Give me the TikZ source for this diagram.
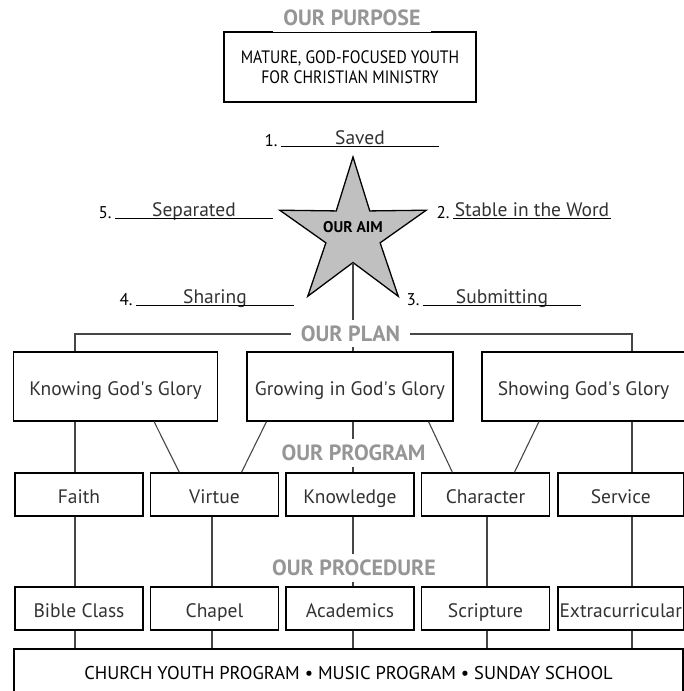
\documentclass[tikz,border=0pt]{standalone}
\usepackage{fontspec}
\setmainfont{PT Sans}
\newfontfamily\condfont[FakeStretch=0.87]{PT Sans}
\usetikzlibrary{calc, positioning, shapes}
\definecolor{headgray}{RGB}{150,150,150}
\definecolor{textgray}{RGB}{50,50,50}
\definecolor{linegray}{RGB}{70,70,70}
\definecolor{starfill}{RGB}{192,192,192}
\tikzset{
    bx/.style args={#1 #2}{
        draw, line width=1.3pt, minimum width=#1, minimum height=#2,
        inner sep=0pt, text height=17pt, text depth=0pt,
        text=textgray, font=\fontsize{19.5}{21}\selectfont
    },
    bx/.default={128pt 43pt}
}
\tikzset{
    head/.style={fill=white, text=headgray, inner xsep=10pt, inner ysep=5.5pt,
        font=\bfseries\fontsize{22}{24}\selectfont},
    conn/.style={draw=linegray, line width=1.1pt},
    blank/.style={minimum width=158pt, inner sep=0pt, text=textgray,
        font=\fontsize{19.5}{21}\selectfont},
    num/.style={inner sep=0pt, font=\fontsize{17}{18}\selectfont}
}
\begin{document}
\begin{tikzpicture}[x=1pt, y=-1pt]
    \useasboundingbox (0,0) rectangle (684,691);
    \clip (0,0) rectangle (684,691);
    % x of the vertical lines
    \coordinate (x1) at (75,0);
    \coordinate (x2) at (212,0);
    \coordinate (x3) at (353,0);
    \coordinate (x4) at (487,0);
    \coordinate (x5) at (632,0);
    % purpose
    \node[draw, line width=1.3pt, minimum width=252pt, minimum height=70pt, align=center,
        font=\condfont\fontsize{18}{20.5}\selectfont] (goal) at (350,67)
        {MATURE, GOD-FOCUSED YOUTH\\FOR CHRISTIAN MINISTRY};
    % aim
    \node[star, star points=5, star point ratio=2.7, minimum size=154pt, inner sep=0pt,
        draw, fill=starfill, line width=1.3pt] (aim) at (353,234) {};
    \node[inner sep=0pt, font=\bfseries\fontsize{15.5}{16}\selectfont]
        (aimtxt) at ([yshift=7pt]aim.center) {OUR AIM};
    \foreach \i/\x/\y/\w in {1/360/144/Saved, 2/532/216/Stable in the Word,
        3/502/303/Submitting, 4/215/303/Sharing, 5/194/216/Separated}{
        \node[blank, anchor=base] (b\i) at (\x,\y) {\w};
        \draw[line width=1.1pt] ([yshift=-2.5pt]b\i.base west) -- ([yshift=-2.5pt]b\i.base east);
        \node[num, anchor=base east] (n\i) at ([xshift=-3pt, yshift=-2.5pt]b\i.base west) {\i.};
    }
    % plan
    \node[bx={204pt 69pt}] (know) at (115.5,386.5) {Knowing God\textquotesingle s Glory};
    \node[bx={206pt 69pt}] (grow) at (350,386.5) {Growing in God\textquotesingle s Glory};
    \node[bx={203pt 69pt}] (show) at (583.5,386.5) {Showing God\textquotesingle s Glory};
    % program
    \node[bx] (faith) at (79,494.5) {Faith};
    \node[bx] (virtue) at (214.5,494.5) {Virtue};
    \node[bx] (knowl) at (350,494.5) {Knowledge};
    \node[bx] (char) at (485.5,494.5) {Character};
    \node[bx={125.5pt 43pt}] (serv) at (620.75,494.5) {Service};
    % procedure
    \node[bx] (bible) at (79,608.5) {Bible Class};
    \node[bx] (chapel) at (214.5,608.5) {Chapel};
    \node[bx] (acad) at (350,608.5) {Academics};
    \node[bx] (script) at (485.5,608.5) {Scripture};
    \node[bx={125.5pt 43pt}] (extra) at (620.75,608.5) {Extracurricular};
    \node[bx={669pt 44pt}, text=black, font=\fontsize{18.5}{20}\selectfont] (base) at (348.5,671)
        {CHURCH YOUTH PROGRAM \textbullet{} MUSIC PROGRAM \textbullet{} SUNDAY SCHOOL};
    % connectors
    \draw[conn] (aim.inner point 3) -- (grow.north -| x3);
    \draw[conn] (know.north -| x1) -- (x1 |- 0,334) -- (x5 |- 0,334) -- (show.north -| x5);
    \draw[conn] (know.south -| x1) -- (faith.north -| x1);
    \draw[conn] (grow.south -| x3) -- (knowl.north -| x3);
    \draw[conn] (show.south -| x5) -- (serv.north -| x5);
    \draw[conn] ($(know.south west)!0.688!(know.south east)$) -- ($(virtue.north west)!0.228!(virtue.north east)$);
    \draw[conn] ($(grow.south west)!0.097!(grow.south east)$) -- ($(virtue.north west)!0.709!(virtue.north east)$);
    \draw[conn] ($(grow.south west)!0.879!(grow.south east)$) -- ($(char.north west)!0.244!(char.north east)$);
    \draw[conn] ($(show.south west)!0.282!(show.south east)$) -- ($(char.north west)!0.724!(char.north east)$);
    \foreach \a/\b/\c in {faith/bible/x1, virtue/chapel/x2, knowl/acad/x3, char/script/x4, serv/extra/x5}{
        \draw[conn] (\a.south -| \c) -- (\b.north -| \c);
        \draw[conn] (\b.south -| \c) -- (base.north -| \c);
    }
    % headings
    \node[head] (purpose) at (352,18) {OUR PURPOSE};
    \node[head] (plan) at (350.5,333.5) {OUR PLAN};
    \node[head] (program) at (353.5,453) {OUR PROGRAM};
    \node[head] (procedure) at (354,568) {OUR PROCEDURE};
\end{tikzpicture}
\end{document}
